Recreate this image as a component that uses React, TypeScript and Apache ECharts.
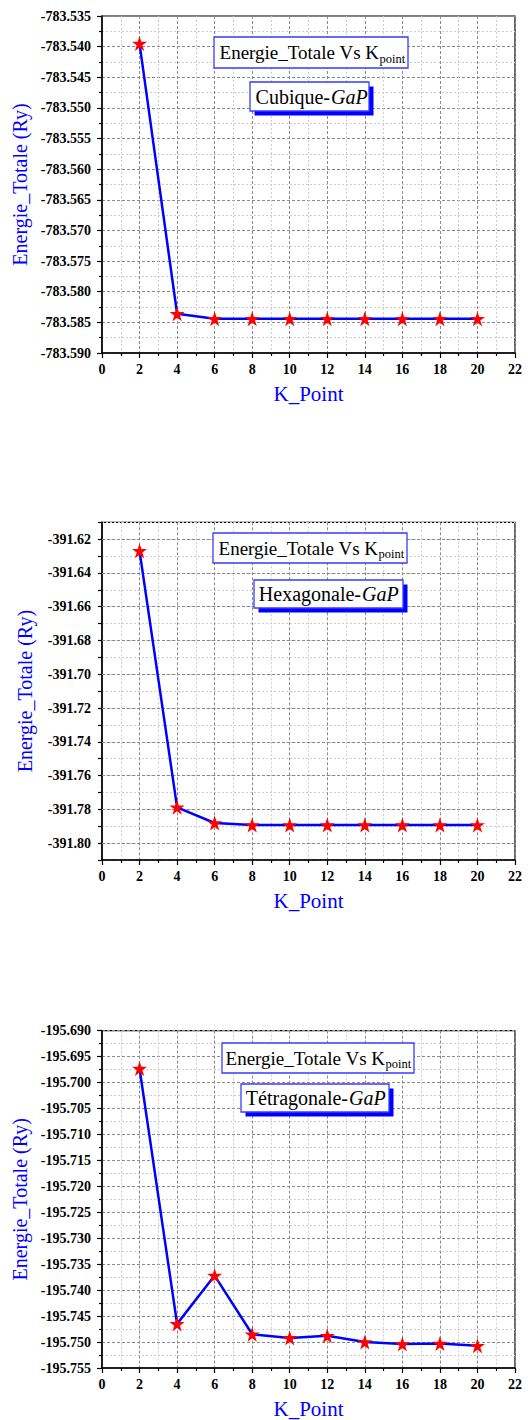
import React, { useEffect, useRef } from "react";
import * as echarts from "echarts";

const K_POINTS = [2, 4, 6, 8, 10, 12, 14, 16, 18, 20];
const E_CUBIQUE = [-783.5395, -783.5836, -783.5844, -783.5844, -783.5844, -783.5844, -783.5844, -783.5844, -783.5844, -783.5844];
const E_HEXAGONALE = [-391.6269, -391.7788, -391.7881, -391.7893, -391.7893, -391.7893, -391.7893, -391.7893, -391.7893, -391.7893];
const E_TETRAGONALE = [-195.6973, -195.7465, -195.7372, -195.7485, -195.7492, -195.7488, -195.75, -195.7504, -195.7503, -195.7507];
const HEX_MAJOR_TICKS = [-391.8, -391.78, -391.76, -391.74, -391.72, -391.7, -391.68, -391.66, -391.64, -391.62];

const X_TITLE = "K_Point";
const Y_TITLE = "Energie_Totale (Ry)";
const LEGEND_MAIN = "Energie_Totale Vs K";
const LEGEND_SUB = "point";
const PHASES = ["Cubique-", "Hexagonale-", "Tétragonale-"];
const COMPOUND = "GaP";

const SERIF = "Liberation Serif";
const STAR = "path://M50,0 L61.2,34.5 L97.6,34.5 L68.2,55.9 L79.4,90.5 L50,69.1 L20.6,90.5 L31.8,55.9 L2.4,34.5 L38.8,34.5 Z";

const GRIDS = [
  { top: 16, height: 337 },
  { top: 522.3, height: 337.7 },
  { top: 1030.6, height: 337.7 },
];

const BOXES = [
  { title: { x: 214, y: 37, w: 194, h: 31, split: 379 }, phase: { x: 250, y: 82, w: 119, h: 29, split: 330 } },
  { title: { x: 213, y: 533, w: 194, h: 30, split: 378 }, phase: { x: 254, y: 580, w: 149, h: 28, split: 361 } },
  { title: { x: 222, y: 1043, w: 192, h: 30, split: 385 }, phase: { x: 241, y: 1084, w: 148, h: 28, split: 348 } },
];

function buildGraphics() {
  const els: any[] = [];
  BOXES.forEach((b, i) => {
    const t = b.title;
    els.push({
      type: "rect", z: 100,
      shape: { x: t.x, y: t.y, width: t.w, height: t.h },
      style: { fill: "#fff", stroke: "#3a3aff", lineWidth: 1.3 },
    });
    els.push({
      type: "text", z: 101, x: t.split, y: t.y + t.h / 2,
      style: { text: LEGEND_MAIN, fontSize: 19, fontFamily: SERIF, fill: "#000", align: "right", verticalAlign: "middle" },
    });
    els.push({
      type: "text", z: 101, x: t.split + 0.5, y: t.y + t.h / 2 + 6,
      style: { text: LEGEND_SUB, fontSize: 12.5, fontFamily: SERIF, fill: "#000", align: "left", verticalAlign: "middle" },
    });
    const p = b.phase;
    els.push({
      type: "rect", z: 100,
      shape: { x: p.x + 4.5, y: p.y + 4.5, width: p.w, height: p.h },
      style: { fill: "#0000ff" },
    });
    els.push({
      type: "rect", z: 100,
      shape: { x: p.x, y: p.y, width: p.w, height: p.h },
      style: { fill: "#fff", stroke: "#3a3aff", lineWidth: 1.3 },
    });
    els.push({
      type: "text", z: 101, x: p.split, y: p.y + p.h / 2,
      style: { text: PHASES[i], fontSize: 20, fontFamily: SERIF, fill: "#000", align: "right", verticalAlign: "middle" },
    });
    els.push({
      type: "text", z: 101, x: p.split + 1, y: p.y + p.h / 2,
      style: { text: COMPOUND, fontSize: 20, fontFamily: SERIF, fontStyle: "italic", fill: "#000", align: "left", verticalAlign: "middle" },
    });
  });
  return els;
}

const majorLine = { show: true, lineStyle: { color: "#8a8a8a", width: 1, type: [3, 2] } };
const minorLine = { show: true, lineStyle: { color: "#cdcdcd", width: 1, type: [2, 2] } };
const axisLineStyle = { show: true, onZero: false, lineStyle: { color: "#000", width: 1.5 } };
const labelStyle = { color: "#000", fontWeight: "bold" as const, fontSize: 14, fontFamily: SERIF };

function xAxisFor(i: number) {
  return {
    type: "value", gridIndex: i, min: 0, max: 22, interval: 2,
    name: X_TITLE, nameLocation: "middle", nameGap: 30,
    nameTextStyle: { color: "#0000ff", fontSize: 21, fontFamily: SERIF },
    axisLine: axisLineStyle,
    axisTick: { show: true, inside: false, length: 5, lineStyle: { color: "#000", width: 1.2 } },
    minorTick: { show: true, splitNumber: 2, length: 3, lineStyle: { color: "#000", width: 1.2 } },
    axisLabel: { ...labelStyle, margin: 9, formatter: (v: number) => String(Math.round(v)) },
    splitLine: majorLine,
    minorSplitLine: minorLine,
  };
}

function yAxisFor(i: number, min: number, max: number, interval: number, isHex: boolean) {
  return {
    type: "value", gridIndex: i, min, max, interval,
    name: Y_TITLE, nameLocation: "middle", nameGap: 67, nameRotate: 90,
    nameTextStyle: { color: "#0000ff", fontSize: 20, fontFamily: SERIF },
    axisLine: axisLineStyle,
    axisTick: { show: true, inside: false, length: isHex ? 4 : 5, lineStyle: { color: "#000", width: 1.2 } },
    minorTick: { show: !isHex, splitNumber: 2, length: 3, lineStyle: { color: "#000", width: 1.2 } },
    axisLabel: {
      ...labelStyle, margin: 11,
      formatter: isHex
        ? (v: number) => (Math.abs(Math.round(v * 100)) % 2 === 0 ? v.toFixed(2) : "")
        : (v: number) => v.toFixed(3),
    },
    splitLine: isHex ? minorLine : majorLine,
    minorSplitLine: isHex ? { show: false } : minorLine,
  };
}

function seriesFor(i: number, values: number[], extra: any = {}) {
  return {
    type: "line", xAxisIndex: i, yAxisIndex: i,
    data: K_POINTS.map((k, j) => [k, values[j]]),
    lineStyle: { color: "#0000ff", width: 2.5 },
    itemStyle: { color: "#ff0000" },
    symbol: STAR, symbolSize: 15, showSymbol: true, z: 3,
    ...extra,
  };
}

export default function App() {
  const ref = useRef<HTMLDivElement>(null);
  useEffect(() => {
    if (!ref.current) return;
    const chart = echarts.init(ref.current, null, { renderer: "svg" });
    chart.setOption({
      animation: false,
      textStyle: { fontFamily: SERIF },
      grid: GRIDS.map((g) => ({
        left: 102, width: 413, top: g.top, height: g.height,
        show: true, borderColor: "#000", borderWidth: 1.2, backgroundColor: "transparent",
      })),
      xAxis: [xAxisFor(0), xAxisFor(1), xAxisFor(2)],
      yAxis: [
        yAxisFor(0, -783.59, -783.535, 0.005, false),
        yAxisFor(1, -391.81, -391.61, 0.01, true),
        yAxisFor(2, -195.755, -195.69, 0.005, false),
      ],
      series: [
        seriesFor(0, E_CUBIQUE),
        seriesFor(1, E_HEXAGONALE, {
          markLine: {
            silent: true, symbol: ["none", "none"], z: 1, animation: false,
            label: { show: false },
            lineStyle: { color: "#8a8a8a", width: 1, type: [3, 2] },
            emphasis: { disabled: true },
            data: HEX_MAJOR_TICKS.map((v) => ({ yAxis: v })),
          },
        }),
        seriesFor(2, E_TETRAGONALE),
      ],
      graphic: buildGraphics(),
    });
    return () => chart.dispose();
  }, []);
  return <div ref={ref} style={{ position: "absolute", left: 0, top: 0, width: 528, height: 1420 }} />;
}
